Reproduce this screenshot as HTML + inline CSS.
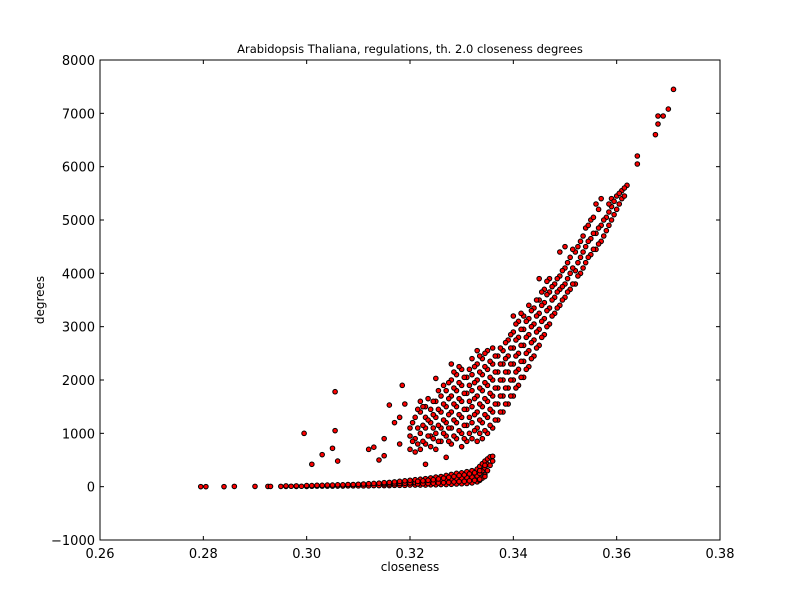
<!DOCTYPE html>
<html><head><meta charset="utf-8"><style>
body{margin:0;background:#fff;}
svg{display:block;font-family:"DejaVu Sans","Liberation Sans",sans-serif;}
</style></head><body>
<svg id="chart" width="800" height="600">
<rect x="0" y="0" width="800" height="600" fill="#fff"/>
<text x="410" y="53" font-size="11.5" text-anchor="middle">Arabidopsis Thaliana, regulations, th. 2.0 closeness degrees</text>
<text x="410" y="571" font-size="12" text-anchor="middle">closeness</text>
<text x="44" y="300" font-size="12" text-anchor="middle" transform="rotate(-90 44 300)">degrees</text>
<g id="marks"></g>
<g id="axes"></g>
</svg>
<script>
const xTicks = [0.26,0.28,0.30,0.32,0.34,0.36,0.38];
const xTickLabels = ["0.26","0.28","0.30","0.32","0.34","0.36","0.38"];
const yTicks = [-1000,0,1000,2000,3000,4000,5000,6000,7000,8000];
const yTickLabels = ["\u22121000","0","1000","2000","3000","4000","5000","6000","7000","8000"];
const closeness = [0.2795,0.2805,0.284,0.286,0.290,0.2925,0.293,0.295,0.296,0.297,0.298,0.299,0.300,0.301,0.302,0.303,0.304,0.305,0.306,0.307,0.308,0.309,0.310,0.311,0.312,0.313,0.314,0.315,0.316,0.317,0.318,0.319,0.320,0.321,0.322,0.323,0.324,0.325,0.326,0.327,0.328,0.329,0.330,0.331,0.332,0.333,0.3335,0.334,0.3345,0.335,0.3355,0.336,
0.3215,0.3225,0.3235,0.3245,0.3255,0.3265,0.3275,0.3285,0.3295,0.3305,0.3315,0.3325,0.3335,0.3345,
0.2995,0.301,0.303,0.305,0.3055,0.306,0.312,0.313,0.314,0.315,0.316,0.317,0.318,0.3185,0.319,
0.320,0.321,0.322,0.323,0.324,0.325,0.326,0.327,0.328,0.329,0.330,0.331,0.332,0.333,0.334,0.335,0.336,0.337,0.338,0.339,0.340,0.341,0.342,0.343,0.344,0.345,0.346,0.347,0.348,0.349,0.350,0.351,0.352,0.353,0.354,0.355,0.356,0.357,0.358,0.359,0.360,0.361,0.362,0.364,0.3675,0.368,0.369,0.370,0.371,
0.3205,0.3215,0.3225,0.3235,0.3245,0.3255,0.3265,0.3275,0.3285,0.3295,0.3305,0.3315,0.3325,0.3335,0.3345,0.3355,0.3365,0.3375,0.3385,0.3395,0.3405,0.3415,0.3425,0.3435,0.3445,0.3455,0.3465,0.3475,0.3485,0.3495,0.3505,0.3515,0.3525,0.3535,0.3545,0.3555,0.3565,0.3575,0.3585,0.3595,0.3605,0.3615];
const degrees = [[0],[0],[0],[5],[5],[5],[5],[5],[5,15],[8],[5,15],[8],[5,20],[8,20],[10,25],[10,25],[10,30],[10,30],[12,35],[12,35],[15,40],[15,40],[15,45],[15,50],[15,55],[20,60],[20,65],[20,50,75],[20,50,80],[25,55,90],[25,60,100],[25,65,110],[30,70,120],[30,75,130],[30,80,140],[30,90,150],[35,100,165],[35,110,180],[40,120,190],[40,130,210],[45,140,230],[50,150,250],[55,160,260],[60,170,280],[70,180,300],[90,200,330],[120,250,380],[160,300,430],[220,350,480],[300,420,520],[400,560],[480,570],
[50,100],[55,110],[60,120],[65,130],[70,145],[75,160],[80,175],[90,190],[95,210],[100,220],[110,240],[120,260],[140,300],[190,400],
[1000],[420],[600],[720],[1780,1050],[480],[700],[740],[500],[580,900],[1530],[1200],[1300,800],[1900],[1550],
[700,950,1100],[650,900,1300],[700,1000,1400,1600],[800,1100,1300,1500,420],[750,950,1200,1450],[700,1000,1300,1600,2030],[850,1100,1400,1700],[550,950,1200,1500,1800],[800,1100,1400,1700,2000,2300],[900,1200,1500,1800,2100],[750,1000,1300,1600,1900,2200],[850,1150,1450,1750,2050],[900,1200,1500,1800,2100,2400],[850,1100,1400,1700,2000,2300,2550],[900,1200,1500,1800,2100,2400],[1000,1300,1600,1900,2200,2550],[1100,1400,1700,2000,2300,2600],[1250,1550,1850,2150,2450],[1400,1700,2000,2300,2550],[1550,1850,2150,2450,2750],[1700,2000,2300,2600,2900,3200],[1900,2200,2500,2800,3100],[2050,2350,2650,2950,3200],[2250,2550,2850,3150,3400],[2450,2750,3050,3350],[2650,2950,3250,3500,3900],[2850,3150,3450,3700],[3050,3350,3650,3900],[3250,3550,3800],[3400,3700,3950,4400],[3550,3800,4100,4500],[3700,4000,4300],[3800,4050,4400],[4000,4300,4600],[4200,4500,4850],[4350,4650,5000],[4450,4750,5300],[4600,4900,5400],[4800,5050],[5000,5250,5400],[5200,5450],[5400,5550],[5650],[6050,6200],[6600],[6800,6950],[6950],[7080],[7450],
[850,1200],[800,1100,1450],[850,1150,1500],[950,1250,1650],[900,1100,1350,1600],[850,1150,1450,1800],[1000,1250,1550,1900],[850,1100,1350,1650,1950],[950,1250,1550,1850,2150],[1050,1350,1650,1950,2250],[900,1150,1450,1750,2050],[1000,1300,1600,1900,2200],[1050,1350,1650,1950,2250],[1000,1250,1550,1850,2150,2450],[1050,1350,1650,1950,2250,2500],[1150,1450,1750,2050,2350],[1250,1550,1850,2150,2450],[1400,1700,2000,2300,2600],[1550,1850,2150,2400,2700],[1700,2000,2300,2600,2850],[1850,2150,2450,2750,3050],[2050,2350,2650,2950,3250],[2200,2500,2800,3100],[2400,2700,3000,3300],[2600,2900,3200,3500],[2800,3100,3400,3650],[3000,3300,3600,3850],[3200,3500,3750],[3350,3650,3900],[3500,3750,4050],[3650,3900,4200],[3800,4100,4450],[3950,4200,4500],[4100,4400,4700],[4300,4600,4900],[4450,4750,5050],[4550,4850,5200],[4700,5000],[4900,5150,5300],[5100,5350],[5300,5500],[5450,5600]];

const L=100,R=720,T=60,B=540;
const xMin=0.26,xMax=0.38,yMin=-1000,yMax=8000;
function xs(v){return L+(v-xMin)/(xMax-xMin)*(R-L);}
function ys(v){return B-(v-yMin)/(yMax-yMin)*(B-T);}
const NS="http://www.w3.org/2000/svg";
const marks=document.getElementById('marks');
closeness.forEach((c,i)=>{
  degrees[i].forEach(d=>{
    const el=document.createElementNS(NS,'circle');
    el.setAttribute('cx',xs(c));el.setAttribute('cy',ys(d));el.setAttribute('r',2.3);
    el.setAttribute('fill','#ff0000');el.setAttribute('stroke','#000');el.setAttribute('stroke-width','1');
    
    
    marks.appendChild(el);
  });
});
const axes=document.getElementById('axes');
function add(tag,attrs,text){const e=document.createElementNS(NS,tag);for(const k in attrs)e.setAttribute(k,attrs[k]);if(text!==undefined)e.textContent=text;axes.appendChild(e);return e;}
const frame=add('rect',{x:L,y:T,width:R-L,height:B-T,fill:'none',stroke:'#000','stroke-width':1});


xTicks.forEach((t,i)=>{
  const x=xs(t);
  const a=add('line',{x1:x,x2:x,y1:B,y2:B-4,stroke:'#000'});
  
  
  const b=add('line',{x1:x,x2:x,y1:T,y2:T+4,stroke:'#000'});
  
  
  const tx=add('text',{x:x,y:B+18,'font-size':13,'text-anchor':'middle'},xTickLabels[i]);
  
  
});
yTicks.forEach((t,i)=>{
  const y=ys(t);
  const a=add('line',{x1:L,x2:L+4,y1:y,y2:y,stroke:'#000'});
  
  
  const b=add('line',{x1:R,x2:R-4,y1:y,y2:y,stroke:'#000'});
  
  
  const tx=add('text',{x:L-5,y:y+5,'font-size':13,'text-anchor':'end'},yTickLabels[i]);
  
  
});
</script>
</body></html>
